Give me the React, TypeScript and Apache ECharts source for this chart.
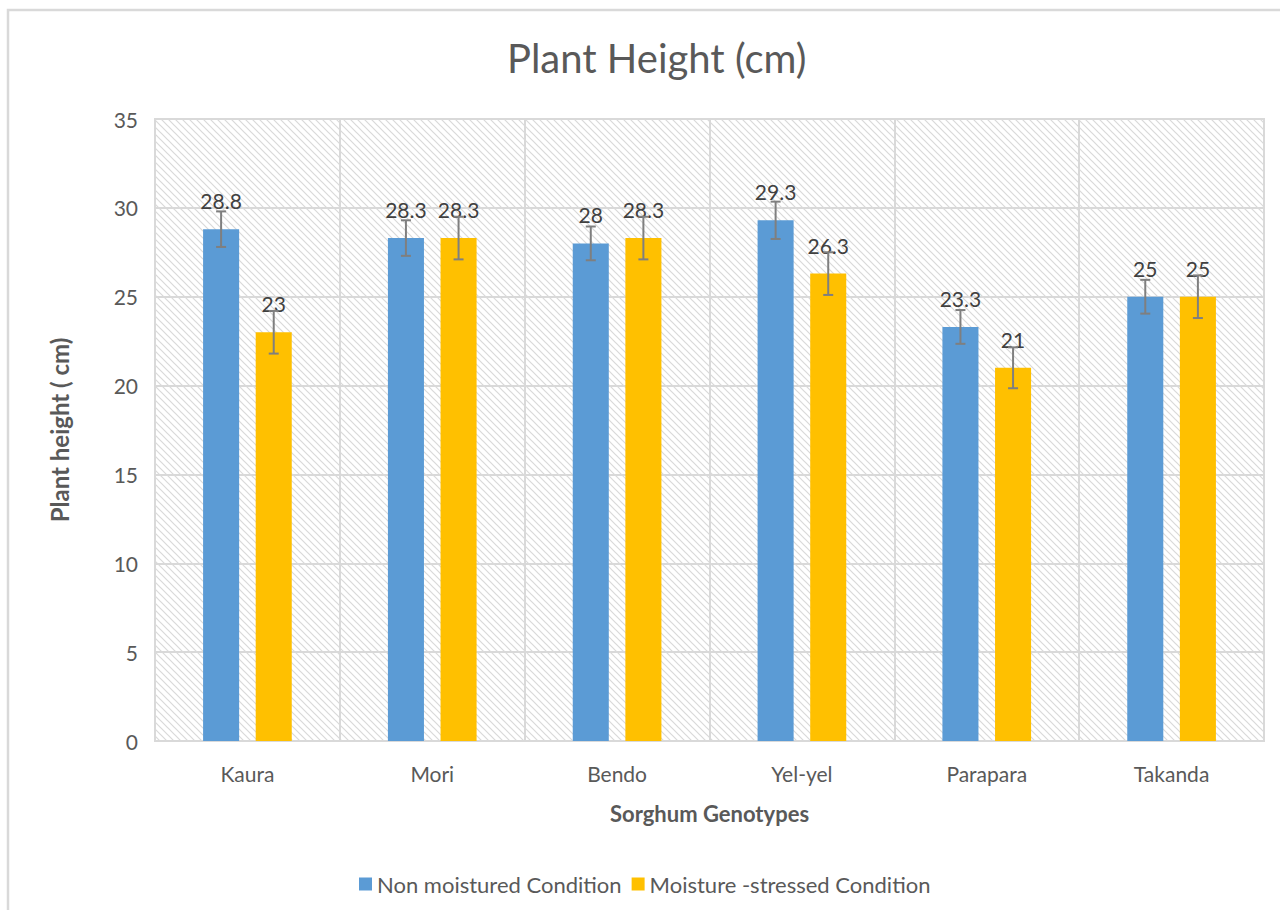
import React, { useEffect, useRef } from "react";
import * as echarts from "echarts";

const categories = ["Kaura", "Mori", "Bendo", "Yel-yel", "Parapara", "Takanda"];
const nonMoistured = [28.8, 28.3, 28, 29.3, 23.3, 25];
const moistureStressed = [23, 28.3, 28.3, 26.3, 21, 25];
const errNonMoistured = [1.0, 1.0, 0.95, 1.05, 0.95, 0.95];
const errStressed = [1.2, 1.2, 1.2, 1.2, 1.15, 1.2];
const seriesNames = ["Non moistured Condition", "Moisture -stressed Condition"];

const FONT = "Lato, 'Open Sans', sans-serif";
const BAR_W = 0.195;
const BAR_GAP = 0.46;

function makeHatch() {
  const c = document.createElement("canvas");
  const s = 7;
  c.width = s;
  c.height = s;
  const ctx = c.getContext("2d")!;
  ctx.fillStyle = "#ffffff";
  ctx.fillRect(0, 0, s, s);
  ctx.strokeStyle = "#d9d9d9";
  ctx.lineWidth = 1.2;
  ctx.beginPath();
  ctx.moveTo(-1, -1);
  ctx.lineTo(s + 1, s + 1);
  ctx.moveTo(s - 1, -1);
  ctx.lineTo(s + 1, 1);
  ctx.moveTo(-1, s - 1);
  ctx.lineTo(1, s + 1);
  ctx.stroke();
  return { url: c.toDataURL(), size: s };
}

function errorSeries(name: string, vals: number[], errs: number[], side: number) {
  return {
    type: "custom",
    name: name + " err",
    z: 5,
    data: vals.map((v, i) => [i, v - errs[i], v + errs[i]]),
    renderItem: (params: any, api: any) => {
      const idx = api.value(0);
      const lo = api.coord([idx, api.value(1)]);
      const hi = api.coord([idx, api.value(2)]);
      const band = api.size([1, 0])[0];
      const bw = band * BAR_W;
      const off = side * (bw + bw * BAR_GAP) / 2;
      const x = lo[0] + off;
      const cap = 5;
      const style = { stroke: "#7f7f7f", lineWidth: 2 };
      return {
        type: "group",
        children: [
          { type: "line", shape: { x1: x, y1: lo[1], x2: x, y2: hi[1] }, style },
          { type: "line", shape: { x1: x - cap, y1: lo[1], x2: x + cap, y2: lo[1] }, style },
          { type: "line", shape: { x1: x - cap, y1: hi[1], x2: x + cap, y2: hi[1] }, style },
        ],
      };
    },
    tooltip: { show: false },
  };
}

export default function App() {
  const ref = useRef<HTMLDivElement>(null);
  useEffect(() => {
    if (!ref.current) return;
    const chart = echarts.init(ref.current, null, { renderer: "svg" });
    const hatch = makeHatch();
    const label = {
      show: true,
      position: "top",
      distance: 18,
      fontSize: 21,
      color: "#404040",
      fontFamily: FONT,
    };
    chart.setOption({
      animation: false,
      backgroundColor: "#ffffff",
      textStyle: { fontFamily: FONT },
      title: {
        text: "Plant Height (cm)",
        left: 502,
        top: 33,
        textStyle: { fontSize: 40, fontWeight: "normal", color: "#595959", fontFamily: FONT },
      },
      graphic: [
        {
          type: "rect",
          shape: { x: 8, y: 10, width: 1300, height: 1000 },
          style: { fill: "none", stroke: "#d9d9d9", lineWidth: 2.5 },
          silent: true,
          z: -1,
        },
      ],
      legend: {
        data: seriesNames,
        left: 354,
        top: 868,
        itemWidth: 13,
        itemHeight: 13,
        itemGap: 10,
        icon: "rect",
        textStyle: { fontSize: 22, color: "#595959", fontFamily: FONT },
      },
      grid: {
        left: 155,
        right: 16,
        top: 119,
        bottom: 169,
        show: true,
        borderColor: "#d9d9d9",
        borderWidth: 2,
        backgroundColor: {
          image: hatch.url,
          repeat: "repeat",
          imageWidth: hatch.size,
          imageHeight: hatch.size,
        },
      },
      xAxis: {
        type: "category",
        data: categories,
        name: "Sorghum Genotypes",
        nameLocation: "middle",
        nameGap: 61,
        nameTextStyle: { fontSize: 22, fontWeight: "bold", color: "#595959", fontFamily: FONT },
        axisLine: { lineStyle: { color: "#d9d9d9", width: 2 } },
        axisTick: { show: false },
        axisLabel: { fontSize: 21, color: "#595959", margin: 22, fontFamily: FONT },
        splitLine: { show: true, lineStyle: { color: "#d9d9d9", width: 2 } },
      },
      yAxis: {
        type: "value",
        min: 0,
        max: 35,
        interval: 5,
        name: "Plant height ( cm)",
        nameLocation: "middle",
        nameGap: 84,
        nameTextStyle: { fontSize: 24, fontWeight: "bold", color: "#595959", fontFamily: FONT },
        axisLine: { show: false },
        axisTick: { show: false },
        axisLabel: { fontSize: 21, color: "#595959", margin: 17, fontFamily: FONT },
        splitLine: { show: true, lineStyle: { color: "#d9d9d9", width: 2 } },
      },
      series: [
        {
          type: "bar",
          name: seriesNames[0],
          data: nonMoistured,
          barWidth: (BAR_W * 100).toFixed(1) + "%",
          barGap: (BAR_GAP * 100).toFixed(0) + "%",
          itemStyle: { color: "#5b9bd5" },
          label,
        },
        {
          type: "bar",
          name: seriesNames[1],
          data: moistureStressed,
          barWidth: (BAR_W * 100).toFixed(1) + "%",
          barGap: (BAR_GAP * 100).toFixed(0) + "%",
          itemStyle: { color: "#ffc000" },
          label,
        },
        errorSeries(seriesNames[0], nonMoistured, errNonMoistured, -1),
        errorSeries(seriesNames[1], moistureStressed, errStressed, 1),
      ],
    });
    return () => chart.dispose();
  }, []);
  return (
    <div
      ref={ref}
      style={{ position: "absolute", left: 0, top: 0, width: 1280, height: 910 }}
    />
  );
}
